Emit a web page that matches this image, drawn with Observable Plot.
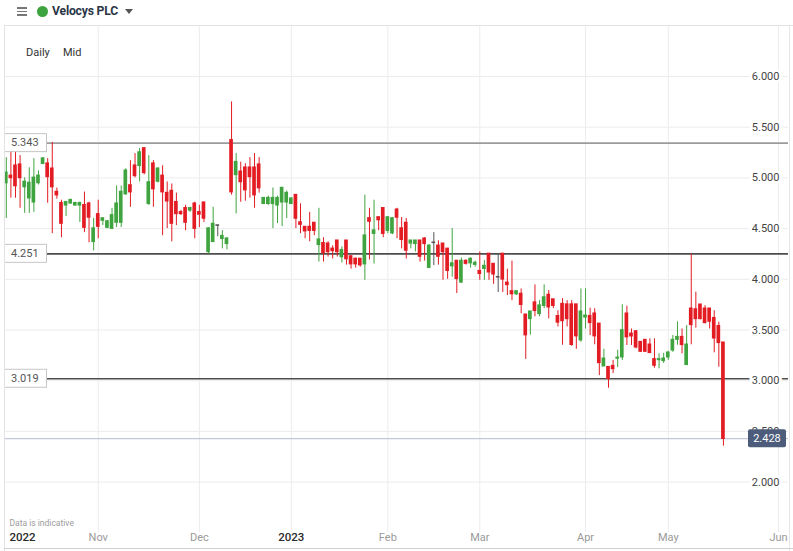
<!DOCTYPE html>
<html>
<head>
<meta charset="utf-8">
<script src="https://cdn.jsdelivr.net/npm/d3@7"></script>
<script src="https://cdn.jsdelivr.net/npm/@observablehq/plot@0.6"></script>
<style>
  body { margin: 0; background: #fff; font-family: Roboto, "Noto Sans", sans-serif; }
  #wrap { position: relative; width: 793px; height: 551px; overflow: hidden; background: #fff; }
  #chart { position: absolute; left: 0; top: 0; }
  #hdr { position: absolute; left: 4px; top: 0; width: 789px; height: 25px; border-bottom: 1px solid #e3e3e3; }
  .burger { position: absolute; left: 13px; width: 10px; height: 1.6px; background: #777; }
  .dot { position: absolute; left: 33px; top: 6px; width: 11px; height: 11px; border-radius: 50%; background: #3da33f; }
  .name { position: absolute; left: 48px; top: 4px; font-size: 12.2px; font-weight: 700; color: #2a3646; letter-spacing: -0.2px; white-space: nowrap; }
  .caret { position: absolute; left: 121px; top: 9px; width: 0; height: 0;
           border-left: 4.5px solid transparent; border-right: 4.5px solid transparent; border-top: 5px solid #555; }
  .opt { position: absolute; top: 46px; font-size: 11px; color: #333; }
  #leftEdge { position: absolute; left: 4px; top: 25px; height: 526px; border-left: 1px solid #e3e3e3; }
  #rightEdge { position: absolute; left: 789px; top: 25px; height: 526px; border-left: 1px solid #e6e6e6; }
  #foot { position: absolute; left: 4px; top: 548px; width: 789px; border-top: 1px solid #cfcfcf; }
</style>
</head>
<body>
<div id="wrap">
  <div id="chart"></div>
  <div id="hdr">
    <div class="burger" style="top:7px"></div>
    <div class="burger" style="top:10.5px"></div>
    <div class="burger" style="top:14px"></div>
    <div class="dot"></div>
    <div class="name">Velocys PLC</div>
    <div class="caret"></div>
  </div>
  <div class="opt" style="left:26px">Daily</div>
  <div class="opt" style="left:63px">Mid</div>
  <div id="leftEdge"></div>
  <div id="rightEdge"></div>
  <div id="foot"></div>
</div>
<script>
// Daily mid-price candles, one entry per trading session (Oct 2022 – May 2023)
const open = [
  4.95, 5.02, 5.12, 5.13, 4.91, 4.80, 4.76, 4.95, 5.14, 5.14,
  5.09, 4.86, 4.75, 4.73, 4.75, 4.73, 4.73, 4.73, 4.745, 4.37,
  4.64, 4.58, 4.51, 4.50, 4.56, 4.56, 4.84, 4.925, 5.12, 5.12,
  5.29, 4.745, 5.14, 4.965, 5.02, 4.85, 4.87, 4.76, 4.66, 4.70,
  4.68, 4.745, 4.66, 4.755, 4.27, 4.37, 4.53, 4.40, 4.35, 5.37,
  5.03, 5.06, 5.10, 5.10, 5.10, 5.13, 4.745, 4.745, 4.745, 4.73,
  4.76, 4.76, 4.745, 4.83, 4.56, 4.515, 4.515, 4.555, 4.34, 4.355,
  4.35, 4.30, 4.38, 4.22, 4.38, 4.225, 4.20, 4.20, 4.15, 4.60,
  4.45, 4.61, 4.70, 4.48, 4.455, 4.685, 4.50, 4.555, 4.355, 4.35,
  4.38, 4.40, 4.115, 4.36, 4.33, 4.35, 4.30, 4.13, 4.18, 3.97,
  4.18, 4.16, 4.145, 4.08, 4.105, 4.25, 4.15, 4.02, 4.25, 3.965,
  3.88, 3.855, 3.855, 3.65, 3.61, 3.77, 3.66, 3.74, 3.845, 3.80,
  3.635, 3.755, 3.75, 3.75, 3.75, 3.40, 3.625, 3.636, 3.66, 3.56,
  3.143, 3.133, 3.143, 3.22, 3.232, 3.66, 3.462, 3.485, 3.38, 3.40,
  3.354, 3.21, 3.205, 3.196, 3.232, 3.30, 3.406, 3.429, 3.157, 3.709,
  3.702, 3.749, 3.709, 3.709, 3.616, 3.537, 3.374
];
const high = [
  5.20, 5.37, 5.33, 5.22, 5.00, 5.10, 5.19, 5.07, 5.20, 5.19,
  5.35, 4.90, 4.78, 4.76, 4.79, 4.76, 4.76, 4.86, 4.76, 4.60,
  4.78, 4.60, 4.58, 4.70, 4.92, 4.92, 5.09, 5.17, 5.24, 5.29,
  5.30, 5.22, 5.17, 5.10, 5.12, 4.96, 4.94, 4.85, 4.68, 4.73,
  4.71, 4.76, 4.73, 4.76, 4.51, 4.71, 4.53, 4.48, 4.41, 5.75,
  5.24, 5.155, 5.14, 5.20, 5.24, 5.20, 4.80, 4.82, 4.90, 4.82,
  4.90, 4.87, 4.80, 4.83, 4.745, 4.52, 4.66, 4.56, 4.70, 4.41,
  4.37, 4.33, 4.38, 4.32, 4.38, 4.23, 4.21, 4.20, 4.83, 4.70,
  4.78, 4.61, 4.70, 4.61, 4.61, 4.70, 4.61, 4.60, 4.38, 4.38,
  4.38, 4.41, 4.34, 4.46, 4.38, 4.35, 4.30, 4.50, 4.18, 4.21,
  4.19, 4.21, 4.18, 4.27, 4.185, 4.25, 4.15, 4.25, 4.25, 4.10,
  4.18, 3.88, 3.905, 3.65, 3.68, 3.945, 3.79, 3.945, 3.89, 3.80,
  3.69, 3.81, 3.79, 3.79, 3.75, 3.905, 3.905, 3.715, 3.71, 3.56,
  3.31, 3.133, 3.20, 3.30, 3.749, 3.735, 3.51, 3.495, 3.38, 3.40,
  3.413, 3.413, 3.265, 3.27, 3.29, 3.446, 3.58, 3.51, 3.544, 4.251,
  3.873, 3.749, 3.74, 3.71, 3.69, 3.577, 3.374
];
const low = [
  4.60, 4.80, 4.80, 4.70, 4.65, 4.65, 4.66, 4.93, 5.13, 4.75,
  4.45, 4.79, 4.41, 4.62, 4.74, 4.72, 4.56, 4.46, 4.36, 4.28,
  4.40, 4.53, 4.50, 4.49, 4.51, 4.51, 4.83, 4.71, 5.00, 4.96,
  5.03, 4.73, 4.71, 4.95, 4.43, 4.50, 4.37, 4.53, 4.63, 4.48,
  4.66, 4.40, 4.51, 4.56, 4.25, 4.365, 4.42, 4.30, 4.29, 4.83,
  4.645, 4.76, 4.77, 4.80, 4.70, 4.85, 4.74, 4.73, 4.50, 4.55,
  4.52, 4.60, 4.74, 4.50, 4.45, 4.40, 4.37, 4.43, 4.17, 4.17,
  4.22, 4.20, 4.22, 4.16, 4.14, 4.10, 4.11, 4.12, 3.99, 4.19,
  4.15, 4.48, 4.41, 4.45, 4.44, 4.40, 4.30, 4.20, 4.30, 4.27,
  4.17, 4.18, 4.11, 4.135, 4.14, 3.99, 4.00, 4.02, 3.86, 3.96,
  4.14, 4.11, 4.12, 3.99, 3.99, 3.99, 3.95, 3.87, 3.87, 3.84,
  3.79, 3.84, 3.66, 3.21, 3.45, 3.63, 3.63, 3.71, 3.61, 3.71,
  3.53, 3.35, 3.53, 3.34, 3.31, 3.38, 3.51, 3.446, 3.354, 3.05,
  3.14, 2.926, 3.07, 3.13, 3.199, 3.347, 3.347, 3.315, 3.28, 3.28,
  3.27, 3.123, 3.117, 3.17, 3.20, 3.28, 3.35, 3.265, 3.15, 3.354,
  3.518, 3.60, 3.56, 3.51, 3.275, 3.133, 2.354
];
const close = [
  5.05, 5.00, 4.92, 5.00, 4.96, 4.95, 5.00, 5.02, 5.19, 5.01,
  4.91, 4.83, 4.55, 4.76, 4.78, 4.75, 4.75, 4.51, 4.61, 4.50,
  4.52, 4.60, 4.57, 4.63, 4.745, 4.86, 5.07, 4.86, 5.02, 5.25,
  5.05, 4.955, 4.89, 5.09, 4.86, 4.77, 4.55, 4.645, 4.645, 4.56,
  4.70, 4.50, 4.64, 4.60, 4.50, 4.545, 4.53, 4.425, 4.40, 4.86,
  5.155, 4.96, 4.88, 5.01, 4.83, 4.90, 4.80, 4.80, 4.80, 4.80,
  4.90, 4.85, 4.795, 4.60, 4.54, 4.475, 4.48, 4.48, 4.39, 4.26,
  4.27, 4.28, 4.27, 4.285, 4.20, 4.15, 4.15, 4.14, 4.43, 4.57,
  4.48, 4.585, 4.45, 4.61, 4.60, 4.61, 4.39, 4.285, 4.38, 4.38,
  4.225, 4.35, 4.33, 4.36, 4.225, 4.27, 4.085, 4.155, 4.005, 4.18,
  4.155, 4.20, 4.16, 4.055, 4.13, 4.07, 4.05, 4.02, 4.00, 3.945,
  3.855, 3.88, 3.75, 3.45, 3.68, 3.69, 3.74, 3.82, 3.725, 3.74,
  3.575, 3.59, 3.61, 3.355, 3.44, 3.68, 3.64, 3.571, 3.44, 3.176,
  3.216, 3.019, 3.117, 3.225, 3.495, 3.43, 3.439, 3.33, 3.288, 3.288,
  3.275, 3.15, 3.21, 3.216, 3.275, 3.40, 3.429, 3.354, 3.354, 3.551,
  3.61, 3.61, 3.571, 3.584, 3.419, 3.374, 2.428
];

// Session index of the first trading day of each month, and its label
const tickIndex = [20, 42, 62, 83, 103, 126, 144, 168];
const tickLabel = ["Nov", "Dec", "2023", "Feb", "Mar", "Apr", "May", "Jun"];
const firstYearLabel = "2022";

// Price axis ticks, marked levels and the latest price
const gridPrices = [2, 2.5, 3, 3.5, 4, 4.5, 5, 5.5, 6];
const levels = [5.343, 4.251, 3.019];
const lastPrice = 2.428;

const candles = open.map((o, i) => ({i, open: o, high: high[i], low: low[i], close: close[i]}));
const ticks = tickIndex.map((i, k) => ({i, label: tickLabel[k]}));
const isYear = d => /^\d{4}$/.test(d.label);

const up = "#3fa43f", down = "#e31b23", even = "#555555";
const colorOf = d => d.close > d.open ? up : d.close < d.open ? down : even;

const step = 4.597, x0 = 5.8;
const n = candles.length;

const chart = Plot.plot({
  width: 793,
  height: 551,
  marginTop: 26,
  marginRight: 5,
  marginBottom: 19,
  marginLeft: 4,
  x: {type: "linear", domain: [0, n - 1], range: [x0, x0 + step * (n - 1)], axis: null},
  y: {type: "linear", domain: [6, 2], range: [76, 481.6], axis: null},
  style: {fontFamily: "Roboto, 'Noto Sans', sans-serif", fontSize: "11px", background: "transparent", overflow: "visible"},
  marks: [
    // grid
    Plot.ruleX(ticks, {x: "i", stroke: "#ececec"}),
    Plot.ruleY(gridPrices, {stroke: "#ececec"}),
    // marked levels
    Plot.ruleY([lastPrice], {stroke: "#b4bccc", strokeWidth: 1}),
    Plot.ruleY([levels[0]], {stroke: "#9b9b9b", strokeWidth: 1.6}),
    Plot.ruleY(levels.slice(1), {stroke: "#4d4d4d", strokeWidth: 1.6}),
    // price labels on the right
    Plot.text(gridPrices, {
      y: d => d, text: d => d.toFixed(3), frameAnchor: "right", textAnchor: "end", dx: -9,
      fill: "#444", stroke: "white", strokeWidth: 6, paintOrder: "stroke", fontSize: 11
    }),
    // candles: wicks then bodies
    Plot.ruleX(candles, {x: "i", y1: "low", y2: "high", stroke: colorOf, strokeWidth: 1}),
    Plot.rect(candles, {
      x1: d => d.i - 0.4, x2: d => d.i + 0.4, y1: "open", y2: "close",
      fill: colorOf, insetTop: -0.8, insetBottom: -0.8
    }),
    // time labels
    Plot.text(ticks.filter(d => !isYear(d)), {x: "i", text: "label", frameAnchor: "bottom", dy: 8, fill: "#9a9a9a", fontSize: 11}),
    Plot.text(ticks.filter(isYear), {x: "i", text: "label", frameAnchor: "bottom", dy: 8, fill: "#2b2b2b", fontSize: 11.5, fontWeight: 500}),
    Plot.text([firstYearLabel], {text: d => d, frameAnchor: "bottom-left", textAnchor: "start", dx: 5, dy: 8, fill: "#2b2b2b", fontSize: 11.5, fontWeight: 500}),
    Plot.text(["Data is indicative"], {text: d => d, frameAnchor: "bottom-left", textAnchor: "start", dx: 5, dy: -7, fill: "#9c9c9c", fontSize: 8.5})
  ]
});

document.getElementById("chart").appendChild(chart);

// Level tags on the left and the latest-price tag on the right
const yScale = chart.scale("y");
const svg = d3.select(chart);
const tags = svg.append("g").attr("font-size", 11).attr("font-family", "Roboto, 'Noto Sans', sans-serif");
levels.forEach(v => {
  const y = yScale.apply(v);
  tags.append("rect").attr("x", 4.5).attr("y", y - 9).attr("width", 42).attr("height", 18)
    .attr("fill", "white").attr("stroke", "#c6c6c6");
  tags.append("text").attr("x", 11).attr("y", y).attr("dy", "0.35em").attr("text-anchor", "start")
    .attr("fill", "#555").text(v.toFixed(3));
});
{
  const y = yScale.apply(lastPrice);
  tags.append("rect").attr("x", 748).attr("y", y - 9).attr("width", 38).attr("height", 18).attr("rx", 2)
    .attr("fill", "#4c5c7a");
  tags.append("text").attr("x", 767).attr("y", y).attr("dy", "0.35em").attr("text-anchor", "middle")
    .attr("fill", "white").text(lastPrice.toFixed(3));
}
</script>
</body>
</html>
